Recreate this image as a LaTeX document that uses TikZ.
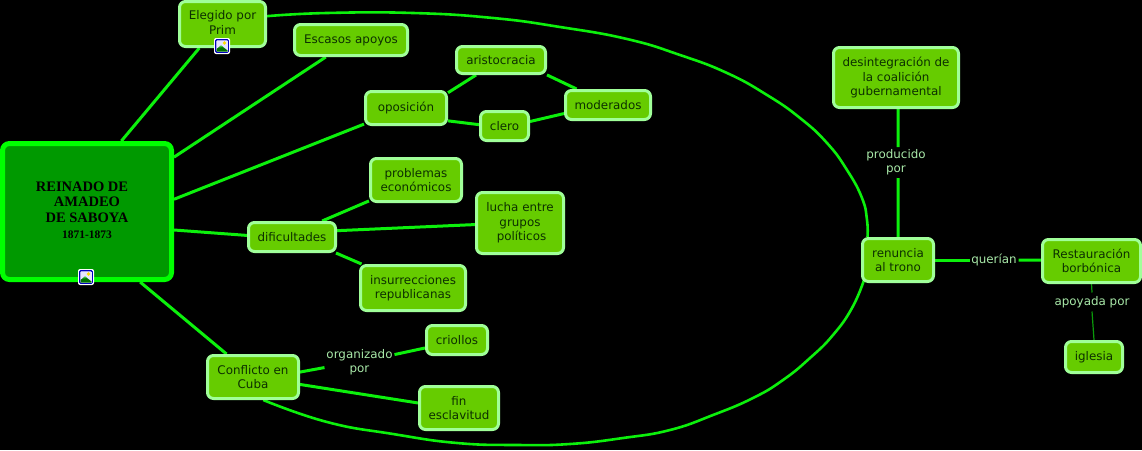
\documentclass[tikz,border=0pt]{standalone}
\usepackage{fontspec}
\setmainfont{DejaVu Sans}
\newfontfamily\titlefont{Liberation Serif}
\pgfdeclarelayer{bg}
\pgfdeclarelayer{conn}
\pgfsetlayers{bg,conn,main}
\definecolor{nfill}{HTML}{66CC00}
\definecolor{nedge}{HTML}{A0FF99}
\definecolor{ntext}{HTML}{0C3000}
\definecolor{ltext}{HTML}{A8E8A8}
\definecolor{wire}{HTML}{0CF00C}
\definecolor{thinwire}{HTML}{0A9A0A}
\definecolor{mainfill}{HTML}{009900}
\definecolor{mainedge}{HTML}{00FF00}
\tikzset{
  x=1pt,y=-1pt,
  body/.style={font=\fontsize{11.9}{14.3}\selectfont,align=center,inner sep=0pt},
  concept/.style={body,draw=nedge,fill=nfill,text=ntext,line width=3pt,rounded corners=6pt},
  linktext/.style={body,text=ltext},
  rootbox/.style={draw=mainedge,fill=mainfill,line width=5pt,rounded corners=7pt,align=center,inner sep=0pt,text=black,font=\titlefont\bfseries\fontsize{14.5}{15.8}\selectfont},
  wireline/.style={draw=wire,line width=3pt},
  curveline/.style={draw=wire,line width=2.6pt},
  thinline/.style={draw=thinwire,line width=1.2pt}
}
\newcommand{\cbox}[6]{%
  \pgfmathsetmacro{\cw}{#4-#2-3}\pgfmathsetmacro{\ch}{#5-#3-3}%
  \node[concept,minimum width=\cw pt,minimum height=\ch pt] (#1) at ({(#2+#4)/2},{(#3+#5)/2}) {#6};}
\newcommand{\ltxt}[6]{%
  \pgfmathsetmacro{\cw}{#4}\pgfmathsetmacro{\ch}{#5}%
  \node[linktext,outer sep=0pt,minimum width=\cw pt,minimum height=\ch pt] (#1) at (#2,#3) {#6};}
\newcommand{\picicon}[2]{%
  \begin{scope}[shift={(#1,#2)}]
    \fill[white,rounded corners=2pt] (-8,-8) rectangle (8,8);
    \draw[draw=blue!75!black,line width=1.2pt,rounded corners=1pt] (-6.3,-6.3) rectangle (6.3,6.3);
    \fill[blue!10] (-5.5,-5.5) rectangle (5.5,5.5);
    \fill[yellow!80!orange] (2.5,-3) circle (1.8);
    \fill[green!45!black] (-5.5,5.5) -- (-5.5,3) -- (-1,-0.5) -- (3,2.5) -- (5.5,4.5) -- (5.5,5.5) -- cycle;
    \fill[green!60!gray] (-3,1.5) -- (-1,-0.5) -- (1,1) -- cycle;
  \end{scope}}
\begin{document}
\begin{tikzpicture}
\begin{pgfonlayer}{bg}
\fill[black] (0,0) rectangle (1142,450);
\end{pgfonlayer}
\useasboundingbox (0,0) rectangle (1142,450);
\node[rootbox,minimum width=169pt,minimum height=136pt] (root) at (87,211.5) {REINADO DE\hspace*{10pt}\\AMADEO\hspace*{8pt}\\DE SABOYA\\\fontsize{11.5}{14}\selectfont 1871-1873\rule[-3pt]{0pt}{3pt}};
\cbox{elegido}{178}{0}{267}{48}{Elegido por\\Prim\rule[-3pt]{0pt}{3pt}}
\cbox{escasos}{293}{23}{409}{57}{Escasos apoyos}
\cbox{aristo}{455}{45}{547}{75}{aristocracia}
\cbox{oposicion}{364}{90}{448}{126}{oposición}
\cbox{clero}{479}{110}{530}{142}{clero}
\cbox{moderados}{564}{89}{652}{121}{moderados}
\cbox{problemas}{369}{157}{463}{203}{problemas\\económicos}
\cbox{lucha}{475}{191}{565}{255}{lucha entre\\grupos\\\hspace*{3pt}políticos}
\cbox{dificultades}{247}{221}{337}{253}{dificultades}
\cbox{insurrec}{359}{264}{467}{312}{insurrecciones\\republicanas}
\cbox{conflicto}{206}{354}{300}{400}{Conflicto en\\Cuba}
\cbox{criollos}{425}{324}{489}{356}{criollos}
\cbox{fin}{418}{385}{500}{431}{fin\\esclavitud}
\cbox{renuncia}{861}{237}{935}{283}{renuncia\\al trono}
\cbox{restaura}{1041}{238}{1142}{284}{Restauración\\borbónica}
\cbox{iglesia}{1064}{340}{1124}{374}{iglesia}
\cbox{desint}{832}{46}{960}{109}{desintegración de\\la coalición\\gubernamental}
\ltxt{organizado}{359.5}{362}{70}{36}{organizado\\por}
\ltxt{producido}{896}{162.5}{66}{31}{producido\\por}
\ltxt{querian}{994}{260}{49}{18}{querían}
\ltxt{apoyada}{1092}{302}{76}{19}{apoyada por}
\begin{pgfonlayer}{conn}
\draw[wireline] (root.64.8) -- (elegido.226.8);
\draw[wireline] (root.32) -- (escasos.214.2);
\draw[wireline] (root.8.2) -- (oposicion.201.8);
\draw[wireline] (root.-12.6) -- (dificultades.178.7);
\draw[wireline] (root.-53) -- (conflicto.139.6);
\draw[wireline] (oposicion.20.6) -- (aristo.211);
\draw[wireline] (aristo.-18.9) -- (moderados.153.4);
\draw[wireline] (oposicion.-17.6) -- (clero.177.7);
\draw[wireline] (clero.10.7) -- (moderados.191.8);
\draw[wireline] (dificultades.28) -- (problemas.204.5);
\draw[wireline] (dificultades.8.8) -- (lucha.182.5);
\draw[wireline] (dificultades.-20) -- (insurrec.155.6);
\draw[wireline] (conflicto.6) -- (organizado.189.7);
\draw[wireline] (organizado.12.9) -- (criollos.194.5);
\draw[wireline] (conflicto.-9.7) -- (fin.173);
\draw[wireline] (desint.-86.4) -- (producido.82.6);
\draw[wireline] (producido.-82.6) -- (renuncia.north);
\draw[wireline] (renuncia.east) -- (querian.west);
\draw[wireline] (querian.east) -- (restaura.179);
\draw[thinline] (restaura.south) -- (apoyada.north);
\draw[thinline] (apoyada.south) -- (iglesia.north);
\draw[curveline] plot[smooth,tension=0.8] coordinates {(elegido.10.2) (327,13) (413,13) (493,18) (560,27) (627,39) (680,55) (727,73) (767,95) (800,118) (827,143) (847,170) (862,198) (867,220) (renuncia.143.7)};
\draw[curveline] plot[smooth,tension=0.8] coordinates {(conflicto.-66.5) (327,422) (393,434) (457,443) (517,445) (570,444) (623,438) (670,430) (713,415) (753,398) (783,380) (810,358) (833,335) (852,308) ([xshift=3pt,yshift=3pt]renuncia.south west)};
\end{pgfonlayer}
\picicon{222}{46}
\picicon{86}{277}
\end{tikzpicture}
\end{document}
